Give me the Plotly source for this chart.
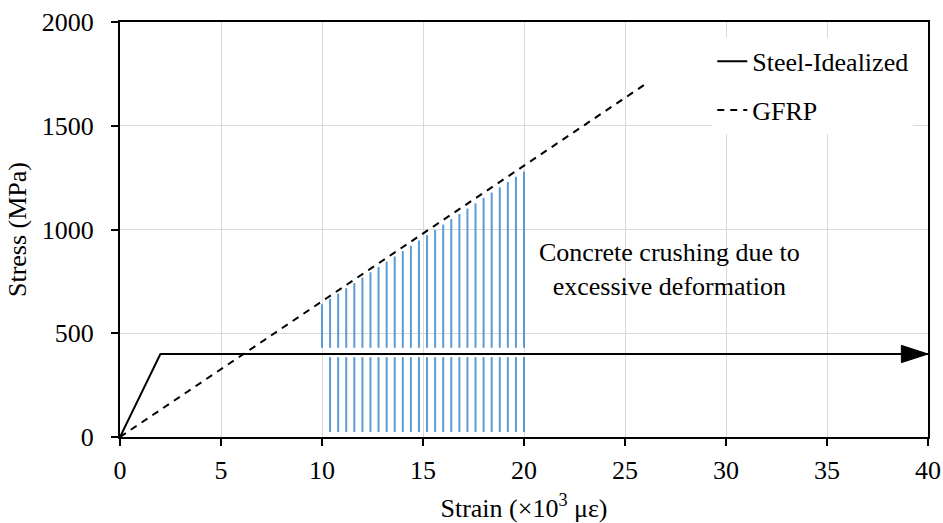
import plotly.graph_objects as go

# Data
steel_x = [0, 2, 40]
steel_y = [0, 400, 400]
gfrp_x = [0, 26]
gfrp_y = [0, 1700]

hatch_x = [10.0, 10.4, 10.8, 11.2, 11.6, 12.0, 12.4, 12.8, 13.2, 13.6, 14.0, 14.4, 14.8,
           15.2, 15.6, 16.0, 16.4, 16.8, 17.2, 17.6, 18.0, 18.4, 18.8, 19.2, 19.6, 20.0]
hatch_top = [640, 666, 691, 717, 742, 768, 794, 819, 845, 870, 896, 922, 947,
             973, 998, 1024, 1050, 1075, 1101, 1126, 1152, 1178, 1203, 1229, 1254, 1280]
hatch_upper_bottom = 430
hatch_lower_top = 385
hatch_lower_bottom = 24

x_ticks = [0, 5, 10, 15, 20, 25, 30, 35, 40]
y_ticks = [0, 500, 1000, 1500, 2000]

FONT = "Times New Roman, Liberation Serif, DejaVu Serif, serif"
FS = 26
BLUE = "#5B9BD5"

# Build hatch segments (upper: above steel line, lower: below steel line)
hx, hy = [], []
for i, (x, t) in enumerate(zip(hatch_x, hatch_top)):
    hx += [x, x, None]
    hy += [hatch_upper_bottom, t, None]
    if i > 0:
        hx += [x, x, None]
        hy += [hatch_lower_bottom, hatch_lower_top, None]

fig = go.Figure()
fig.add_trace(go.Scatter(x=hx, y=hy, mode="lines", line=dict(color=BLUE, width=2),
                         showlegend=False, hoverinfo="skip"))
fig.add_trace(go.Scatter(x=steel_x, y=steel_y, mode="lines", name="Steel-Idealized",
                         line=dict(color="black", width=2), legendgroup="a"))
# arrowhead at the end of the steel line
fig.add_trace(go.Scatter(x=steel_x[-2:], y=steel_y[-2:], mode="markers", showlegend=False,
                         hoverinfo="skip",
                         marker=dict(symbol="arrow", angleref="previous", size=[0, 28],
                                     color="black", opacity=1,
                                     line=dict(width=1, color="black"))))
fig.add_trace(go.Scatter(x=gfrp_x, y=gfrp_y, mode="lines", name="GFRP",
                         line=dict(color="black", width=2, dash="7px,6px"), legendgroup="b"))

fig.add_annotation(x=27.2, y=805, xref="x", yref="y", showarrow=False,
                   text="Concrete crushing due to<br>excessive deformation",
                   font=dict(family=FONT, size=FS, color="black"), align="center")

axis_common = dict(showline=True, linecolor="black", linewidth=2, mirror=True,
                   showgrid=True, gridcolor="#d9d9d9", gridwidth=1,
                   ticks="outside", ticklen=7, tickwidth=2, tickcolor="black",
                   zeroline=False, automargin=False,
                   tickfont=dict(family=FONT, size=FS, color="black"))

fig.update_xaxes(range=[0, 40], tickvals=x_ticks, ticklabelstandoff=2,
                 title=dict(text="Strain (×10<sup>3</sup> με)", standoff=16,
                            font=dict(family=FONT, size=FS, color="black")),
                 **axis_common)
fig.update_yaxes(range=[0, 2000], tickvals=y_ticks, ticklabelstandoff=12,
                 title=dict(text="Stress (MPa)", standoff=8,
                            font=dict(family=FONT, size=FS, color="black")),
                 **axis_common)

fig.update_layout(
    width=943, height=523,
    margin=dict(l=120, r=15, t=22, b=86),
    plot_bgcolor="white", paper_bgcolor="white",
    font=dict(family=FONT, size=FS, color="black"),
    legend=dict(x=0.733, y=0.962, xanchor="left", yanchor="top", bgcolor="white",
                borderwidth=0, tracegroupgap=12, traceorder="grouped",
                font=dict(family=FONT, size=FS, color="black")),
)

fig.write_html("out.html", config={"displayModeBar": False},
               post_script="document.body.style.margin='0';document.body.style.overflow='hidden';")
